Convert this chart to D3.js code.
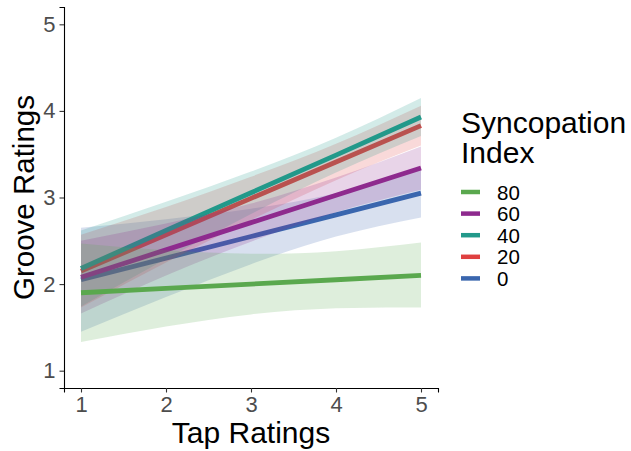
<!DOCTYPE html>
<html>
<head>
<meta charset="utf-8">
<script src="https://cdn.jsdelivr.net/npm/d3@7"></script>
<style>
  html, body { margin: 0; padding: 0; background: #fff; }
  svg { display: block; }
  text { font-family: "Liberation Sans", Arial, sans-serif; }
</style>
</head>
<body>
<svg id="chart" width="631" height="451"></svg>
<script>
// ---- data ----
const tapRatings = [1, 2, 3, 4, 5];
const seriesNames = ["0", "20", "40", "60", "80"];           // drawing order
const legendOrder = ["80", "60", "40", "20", "0"];
const colors = { "80": "#5aa84e", "60": "#8e2a8e", "40": "#22998a", "20": "#df4040", "0": "#3a66ae" };

const fit0  = [2.05, 2.30, 2.55, 2.80, 3.05];
const lo0   = [1.45, 1.85, 2.23, 2.55, 2.77];
const hi0   = [2.65, 2.75, 2.87, 3.05, 3.33];

const fit20 = [2.15, 2.57, 2.99, 3.41, 3.83];
const lo20  = [1.73, 2.25, 2.74, 3.20, 3.60];
const hi20  = [2.57, 2.89, 3.24, 3.62, 4.06];

const fit40 = [2.18, 2.62, 3.055, 3.49, 3.93];
const lo40  = [1.74, 2.29, 2.81, 3.29, 3.71];
const hi40  = [2.62, 2.95, 3.30, 3.69, 4.15];

const fit60 = [2.08, 2.395, 2.71, 3.025, 3.34];
const lo60  = [1.66, 2.10, 2.49, 2.83, 3.09];
const hi60  = [2.50, 2.70, 2.93, 3.23, 3.59];

const fit80 = [1.90, 1.95, 2.00, 2.05, 2.10];
const lo80  = [1.33, 1.51, 1.65, 1.72, 1.73];
const hi80  = [2.47, 2.39, 2.35, 2.38, 2.48];

const xTicks = [1, 2, 3, 4, 5];
const yTicks = [1, 2, 3, 4, 5];

const table = {
  "0":  { fit: fit0,  lo: lo0,  hi: hi0 },
  "20": { fit: fit20, lo: lo20, hi: hi20 },
  "40": { fit: fit40, lo: lo40, hi: hi40 },
  "60": { fit: fit60, lo: lo60, hi: hi60 },
  "80": { fit: fit80, lo: lo80, hi: hi80 }
};

// ---- layout ----
const svg = d3.select("#chart");
const plot = { left: 64, right: 438, top: 7, bottom: 388 };
const x = d3.scaleLinear().domain([0.8, 5.2]).range([plot.left, plot.right]);
const y = d3.scaleLinear().domain([0.8, 5.2]).range([plot.bottom, plot.top]);

const g = svg.append("g");

seriesNames.forEach(name => {
  const s = table[name];
  const pts = tapRatings.map((t, i) => ({ t, fit: s.fit[i], lo: s.lo[i], hi: s.hi[i] }));
  const area = d3.area()
    .x(d => x(d.t)).y0(d => y(d.lo)).y1(d => y(d.hi))
    .curve(d3.curveNatural);
  g.append("path").datum(pts)
    .attr("d", area)
    .attr("fill", colors[name])
    .attr("fill-opacity", 0.2)
    .attr("stroke", "none");
  const line = d3.line().x(d => x(d.t)).y(d => y(d.fit));
  g.append("path").datum(pts)
    .attr("d", line)
    .attr("fill", "none")
    .attr("stroke", colors[name])
    .attr("stroke-width", 4.8);
});

// ---- axes ----
const xAxis = d3.axisBottom(x).tickValues(xTicks).tickSize(4.5).tickPadding(4).tickFormat(d3.format("d"));
const yAxis = d3.axisLeft(y).tickValues(yTicks).tickSize(4.5).tickPadding(4).tickFormat(d3.format("d"));

const gx = svg.append("g").attr("transform", `translate(0,${plot.bottom})`).call(xAxis);
const gy = svg.append("g").attr("transform", `translate(${plot.left},0)`).call(yAxis);

[gx, gy].forEach(ax => {
  ax.select(".domain").attr("stroke", "#000").attr("stroke-width", 1.1);
  ax.selectAll(".tick line").attr("stroke", "#333").attr("stroke-width", 1.1);
  ax.selectAll(".tick text").attr("fill", "#4d4d4d").style("font-size", "22px")
    .style("font-family", '"Liberation Sans", Arial, sans-serif');
});

// axis titles
svg.append("text")
  .attr("x", x(3)).attr("y", 443)
  .attr("text-anchor", "middle")
  .style("font-size", "30px").attr("fill", "#000")
  .text("Tap Ratings");

svg.append("text")
  .attr("transform", `translate(34,${y(3)}) rotate(-90)`)
  .attr("text-anchor", "middle")
  .style("font-size", "29.5px").attr("fill", "#000")
  .text("Groove Ratings");

// ---- legend ----
const lg = svg.append("g");
lg.append("text").attr("x", 461).attr("y", 133).style("font-size", "30px").text("Syncopation");
lg.append("text").attr("x", 461).attr("y", 163).style("font-size", "30px").text("Index");

legendOrder.forEach((name, i) => {
  const cy = 192 + i * 21.6;
  lg.append("line")
    .attr("x1", 461).attr("x2", 480).attr("y1", cy).attr("y2", cy)
    .attr("stroke", colors[name]).attr("stroke-width", 4.5);
  lg.append("text")
    .attr("x", 497).attr("y", cy + 7.5)
    .style("font-size", "20.5px").attr("fill", "#000")
    .text(name);
});
</script>
</body>
</html>
